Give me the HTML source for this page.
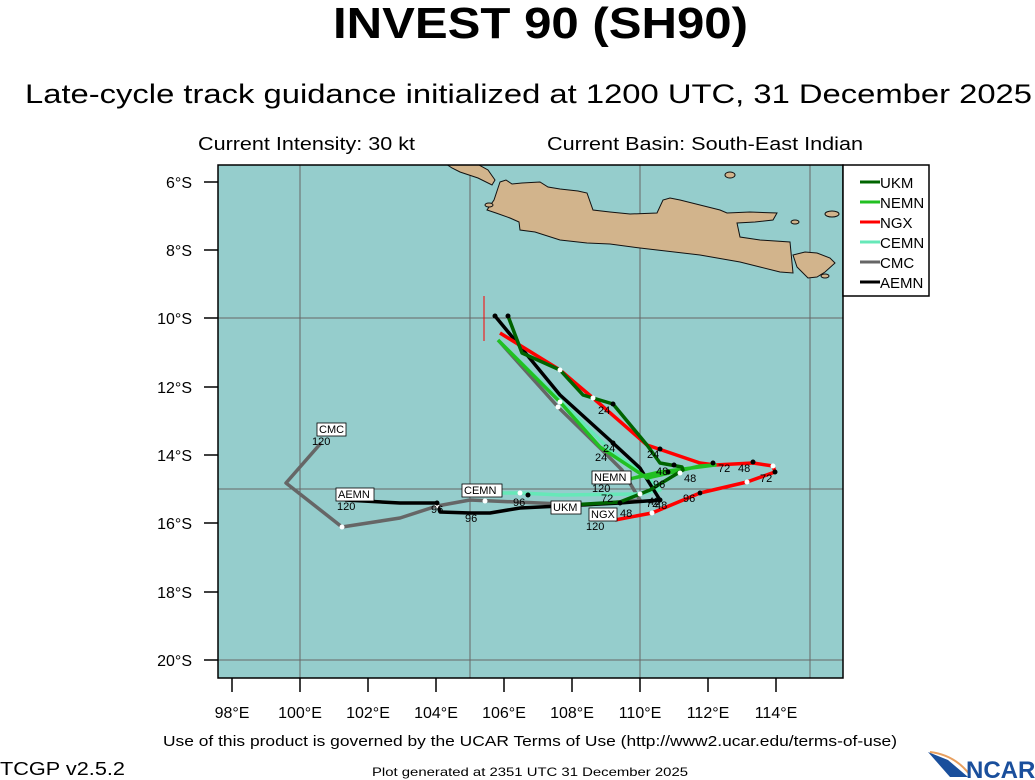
<!DOCTYPE html>
<html><head><meta charset="utf-8"><style>
body{margin:0;background:#fff;}
svg{display:block;font-family:"Liberation Sans",Arial,sans-serif;}
</style></head><body>
<svg width="1035" height="780" viewBox="0 0 1035 780" xmlns="http://www.w3.org/2000/svg">
<defs><clipPath id="m"><rect x="218" y="165" width="625" height="513"/></clipPath></defs>
<text x="333" y="38" font-size="44" font-weight="bold" textLength="415" lengthAdjust="spacingAndGlyphs">INVEST 90 (SH90)</text>
<text x="25" y="103" font-size="27" textLength="1007" lengthAdjust="spacingAndGlyphs">Late-cycle track guidance initialized at 1200 UTC, 31 December 2025</text>
<text x="198" y="150" font-size="18" textLength="217" lengthAdjust="spacingAndGlyphs">Current Intensity: 30 kt</text>
<text x="547" y="150" font-size="18" textLength="316" lengthAdjust="spacingAndGlyphs">Current Basin: South-East Indian</text>

<rect x="218" y="165" width="625" height="513" fill="#95cdcc"/>
<g stroke="#666" stroke-width="1">
<line x1="300" y1="165" x2="300" y2="678"/><line x1="470" y1="165" x2="470" y2="678"/>
<line x1="640" y1="165" x2="640" y2="678"/><line x1="810" y1="165" x2="810" y2="678"/>
<line x1="218" y1="318" x2="843" y2="318"/><line x1="218" y1="489" x2="843" y2="489"/><line x1="218" y1="660" x2="843" y2="660"/>
</g>
<g fill="#d2b48c" stroke="#111" stroke-width="1" clip-path="url(#m)">
<polygon points="500,182 506,180 512,184 522,183 540,182 548,187 560,189 578,191 587,193 593,210 610,212 630,214 657,213 663,200 670,198 680,200 700,205 720,210 727,213 750,212 777,213 773,220 755,222 737,223 740,237 760,240 790,242 793,273 780,272 760,267 740,262 700,255 640,248 610,244 587,243 560,240 535,232 520,230 519,222 510,218 496,213 487,210 494,200"/>
<polygon points="793,255 805,252 817,253 830,258 835,263 825,272 817,277 808,278 800,270 797,267"/>
<polygon points="440,160 470,160 488,170 495,180 492,185 478,178 460,172 452,168"/>
<ellipse cx="730" cy="175" rx="5" ry="3"/><ellipse cx="832" cy="214" rx="7" ry="3"/><ellipse cx="795" cy="222" rx="4" ry="2"/>
<ellipse cx="489" cy="205" rx="4" ry="2"/><ellipse cx="825" cy="276" rx="4" ry="2"/>
</g>
<rect x="218" y="165" width="625" height="513" fill="none" stroke="#000" stroke-width="1.5"/>
<line x1="484" y1="296" x2="484" y2="341" stroke="red" stroke-width="1"/>

<g fill="none" stroke-width="3.5" stroke-linejoin="round">
<polyline stroke="#666" points="498,340 558,407 600,448 622,470 640,500 585,505 470,500 437,506 400,518 342,527 286,483 321,443"/>
<polyline stroke="#66e8b8" points="498,340 560,400 610,450 645,475 660,490 640,494 560,495 520,493 480,493"/>
<polyline stroke="#000" points="495,316 560,395 613,443 640,468 660,500 620,503 520,508 490,513 470,513 440,512 437,503 400,503 345,500"/>
<polyline stroke="#ff0000" points="500,333 560,370 593,398 647,445 700,463 715,465 753,463 773,466 775,472 747,482 700,493 652,513 615,520"/>
<polyline stroke="#22c022" points="498,340 560,402 600,447 647,478 700,466 715,465 660,472 625,480"/>
<polyline stroke="#006400" points="508,316 522,353 560,370 583,395 613,404 647,445 660,463 682,467 683,470 650,490 620,502 570,505"/>
</g>
<g fill="#fff"><circle cx="560" cy="370" r="2.5"/><circle cx="593" cy="398" r="2.5"/><circle cx="560" cy="402" r="2.5"/><circle cx="558" cy="407" r="2.5"/><circle cx="700" cy="493" r="2.5"/><circle cx="747" cy="482" r="2.5"/><circle cx="773" cy="466" r="2.5"/><circle cx="652" cy="513" r="2.5"/><circle cx="485" cy="501" r="2.5"/><circle cx="520" cy="493" r="2.5"/><circle cx="640" cy="494" r="2.5"/><circle cx="342" cy="527" r="2.5"/><circle cx="437" cy="506" r="2.5"/><circle cx="680" cy="473" r="2.5"/></g>
<g fill="#000"><circle cx="495" cy="316" r="2.5"/><circle cx="508" cy="316" r="2.5"/><circle cx="613" cy="404" r="2.5"/><circle cx="613" cy="443" r="2.5"/><circle cx="660" cy="449" r="2.5"/><circle cx="713" cy="463" r="2.5"/><circle cx="753" cy="462" r="2.5"/><circle cx="775" cy="472" r="2.5"/><circle cx="700" cy="493" r="2.5"/><circle cx="668" cy="472" r="2.5"/><circle cx="528" cy="495" r="2.5"/><circle cx="437" cy="503" r="2.5"/><circle cx="620" cy="503" r="2.5"/><circle cx="660" cy="500" r="2.5"/><circle cx="674" cy="465" r="2.5"/></g>
<g font-size="11" fill="#000">
<text x="598" y="414">24</text><text x="603" y="452">24</text><text x="595" y="461">24</text><text x="647" y="458">24</text>
<text x="656" y="475">48</text><text x="684" y="482">48</text><text x="738" y="472">48</text><text x="718" y="472">72</text><text x="760" y="482">72</text>
<text x="683" y="502">96</text><text x="653" y="488">96</text><text x="513" y="506">96</text><text x="465" y="522">96</text><text x="431" y="513">96</text>
<text x="601" y="502">72</text><text x="646" y="507">72</text><text x="620" y="517">48</text><text x="648" y="505">48</text><text x="655" y="509">48</text>
<text x="592" y="492">120</text><text x="586" y="530">120</text><text x="312" y="445">120</text><text x="337" y="510">120</text>
</g>
<g font-size="11" stroke="#000" stroke-width="0.8">
<rect x="317" y="423" width="29" height="13" fill="#fff"/><rect x="336" y="488" width="38" height="13" fill="#fff"/>
<rect x="462" y="484" width="40" height="13" fill="#fff"/><rect x="592" y="471" width="39" height="13" fill="#fff"/>
<rect x="551" y="501" width="30" height="13" fill="#fff"/><rect x="589" y="508" width="28" height="13" fill="#fff"/>
</g>
<g font-size="11" fill="#000">
<text x="319" y="433">CMC</text><text x="338" y="498">AEMN</text><text x="464" y="494">CEMN</text><text x="594" y="481">NEMN</text><text x="553" y="511">UKM</text><text x="591" y="518">NGX</text>
</g>

<g stroke="#000" stroke-width="1.5">
<line x1="204" y1="182" x2="218" y2="182"/><line x1="204" y1="250" x2="218" y2="250"/><line x1="204" y1="318" x2="218" y2="318"/>
<line x1="204" y1="387" x2="218" y2="387"/><line x1="204" y1="455" x2="218" y2="455"/><line x1="204" y1="523" x2="218" y2="523"/>
<line x1="204" y1="592" x2="218" y2="592"/><line x1="204" y1="660" x2="218" y2="660"/>
<line x1="232" y1="678" x2="232" y2="692"/><line x1="300" y1="678" x2="300" y2="692"/><line x1="368" y1="678" x2="368" y2="692"/>
<line x1="436" y1="678" x2="436" y2="692"/><line x1="504" y1="678" x2="504" y2="692"/><line x1="572" y1="678" x2="572" y2="692"/>
<line x1="640" y1="678" x2="640" y2="692"/><line x1="708" y1="678" x2="708" y2="692"/><line x1="776" y1="678" x2="776" y2="692"/>
</g>
<g font-size="16" text-anchor="end">
<text x="192" y="188">6°S</text><text x="192" y="256">8°S</text><text x="192" y="324">10°S</text><text x="192" y="393">12°S</text>
<text x="192" y="461">14°S</text><text x="192" y="529">16°S</text><text x="192" y="598">18°S</text><text x="192" y="666">20°S</text>
</g>
<g font-size="16" text-anchor="middle">
<text x="232" y="718">98°E</text><text x="300" y="718">100°E</text><text x="368" y="718">102°E</text><text x="436" y="718">104°E</text>
<text x="504" y="718">106°E</text><text x="572" y="718">108°E</text><text x="640" y="718">110°E</text><text x="708" y="718">112°E</text><text x="776" y="718">114°E</text>
</g>

<rect x="843" y="165" width="86" height="131" fill="#fff" stroke="#000" stroke-width="1.5"/>
<g stroke-width="3">
<line x1="860" y1="182" x2="880" y2="182" stroke="#006400"/><line x1="860" y1="202" x2="880" y2="202" stroke="#22c022"/>
<line x1="860" y1="222" x2="880" y2="222" stroke="#ff0000"/><line x1="860" y1="242" x2="880" y2="242" stroke="#66e8b8"/>
<line x1="860" y1="262" x2="880" y2="262" stroke="#666"/><line x1="860" y1="282" x2="880" y2="282" stroke="#000"/>
</g>
<g font-size="15">
<text x="880" y="188">UKM</text><text x="880" y="208">NEMN</text><text x="880" y="228">NGX</text>
<text x="880" y="248">CEMN</text><text x="880" y="268">CMC</text><text x="880" y="288">AEMN</text>
</g>

<text x="163" y="746" font-size="15" textLength="734" lengthAdjust="spacingAndGlyphs">Use of this product is governed by the UCAR Terms of Use (http://www2.ucar.edu/terms-of-use)</text>
<text x="0" y="775" font-size="18" textLength="125" lengthAdjust="spacingAndGlyphs">TCGP v2.5.2</text>
<text x="372" y="776" font-size="12" textLength="316" lengthAdjust="spacingAndGlyphs">Plot generated at 2351 UTC   31 December 2025</text>
<polygon points="928,752 948,760 968,777 950,777" fill="#1a4f9c"/>
<path d="M930,752 Q955,755 970,775" stroke="#e8a060" stroke-width="2" fill="none"/>
<text x="966" y="778" font-size="24" font-weight="bold" fill="#1a4f9c">NCAR</text>
</svg>
</body></html>
